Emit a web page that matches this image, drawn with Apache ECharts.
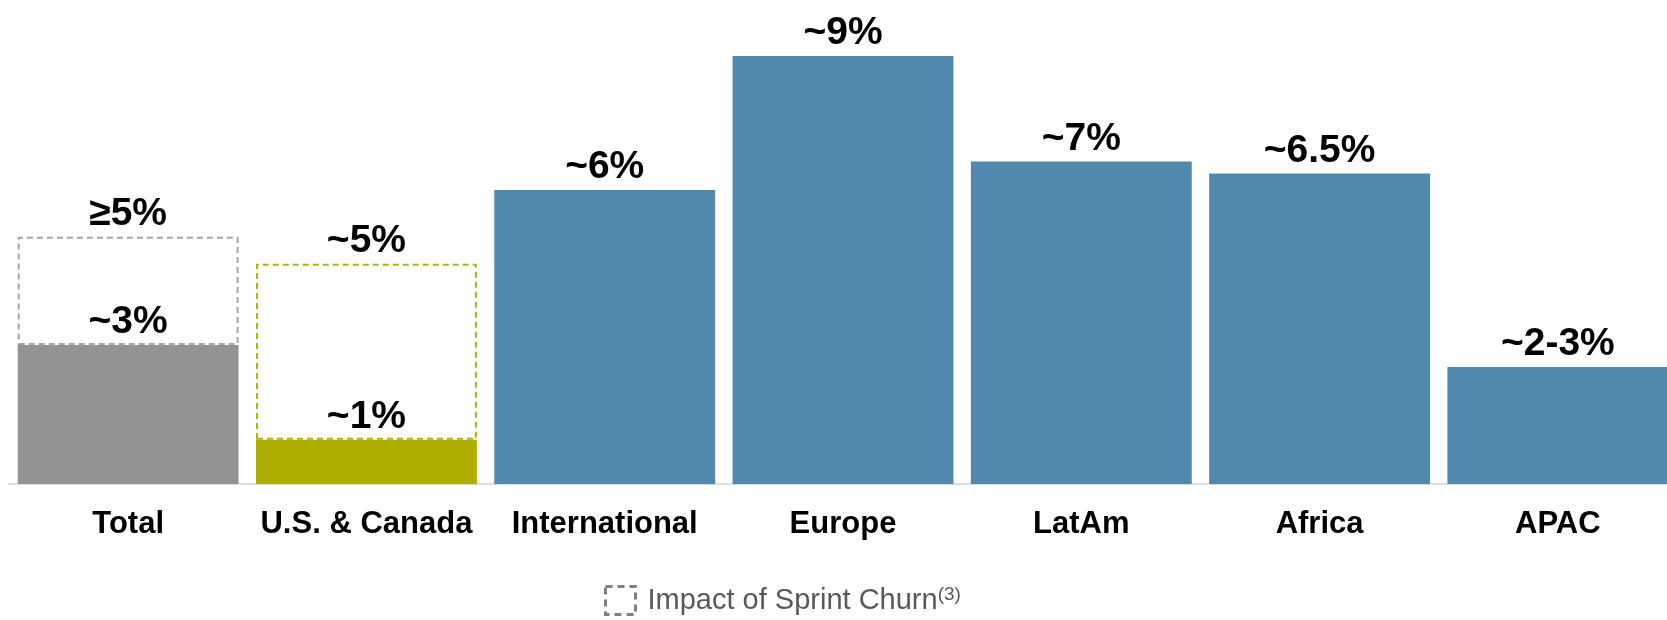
<!DOCTYPE html>
<html>
<head>
<meta charset="utf-8">
<script src="https://cdn.jsdelivr.net/npm/echarts@6/dist/echarts.min.js"></script>
<style>
html,body{margin:0;padding:0;background:#fff;overflow:hidden;width:1667px;height:620px;}
#c{width:1690px;height:620px;}
</style>
</head>
<body>
<div id="c"></div>
<script>
// ---- data ----
var categories = ['Total', 'U.S. & Canada', 'International', 'Europe', 'LatAm', 'Africa', 'APAC'];
var churnValues = [2.92, 0.93, 6.18, 9.0, 6.78, 6.53, 2.46];
var churnLabels = ['~3%', '~1%', '~6%', '~9%', '~7%', '~6.5%', '~2-3%'];
var sprintImpactTotals = [5.2, 4.63, null, null, null, null, null];
var sprintImpactLabels = ['\u22655%', '~5%', '', '', '', '', ''];
var legendName = 'Impact of Sprint Churn';
var legendNote = '(3)';

// ---- styles ----
var fillColors = ['#939393', '#adae00', '#5089ad', '#5089ad', '#5089ad', '#5089ad', '#5089ad'];
var dashColors = ['#a6a6a6', '#b3b400'];
var FONT = 'Liberation Sans, Arial, sans-serif';

var chart = echarts.init(document.getElementById('c'), null, {renderer: 'canvas'});

var baseData = churnValues.map(function (v, i) {
  return {value: v, itemStyle: {color: fillColors[i]}, label: {formatter: churnLabels[i]}};
});
var impactData = sprintImpactTotals.map(function (t, i) {
  if (t === null) return '-';
  return {
    value: +(t - churnValues[i]).toFixed(3),
    itemStyle: {borderColor: dashColors[i]},
    label: {formatter: sprintImpactLabels[i]}
  };
});

var labelStyle = {
  show: true, position: 'top', distance: 3,
  fontFamily: FONT, fontWeight: 'bold', fontSize: 39, color: '#000'
};

chart.setOption({
  animation: false,
  grid: {left: 9, width: 1668, top: 8.4, bottom: 136, containLabel: false},
  legend: {
    left: 599, top: 580,
    itemWidth: 30, itemHeight: 28, itemGap: 10,
    icon: 'rect',
    data: [{name: legendName, icon: 'rect'}],
    itemStyle: {color: 'rgba(0,0,0,0)', borderColor: '#7f7f7f', borderWidth: 3, borderType: [7, 5]},
    formatter: function (n) { return '{a|' + n + '}{s|' + legendNote + '}'; },
    textStyle: {
      padding: [0, 0, 0, 7],
      rich: {
        a: {fontFamily: FONT, fontSize: 29, color: '#595959'},
        s: {fontFamily: FONT, fontSize: 19, color: '#595959', verticalAlign: 'top', padding: [0, 0, 12, 0]}
      }
    }
  },
  xAxis: {
    type: 'category',
    data: categories,
    axisLine: {show: true, lineStyle: {color: '#dedede', width: 2}},
    axisTick: {show: false},
    axisLabel: {
      fontFamily: FONT, fontWeight: 'bold', fontSize: 31, color: '#000', margin: 25, interval: 0
    }
  },
  yAxis: {
    type: 'value', min: 0, max: 10, show: false,
    splitLine: {show: false}
  },
  series: [
    {
      name: 'Churn',
      type: 'bar',
      stack: 's',
      barCategoryGap: '7.3%',
      data: baseData,
      label: labelStyle
    },
    {
      name: legendName,
      type: 'bar',
      stack: 's',
      data: impactData,
      itemStyle: {color: 'rgba(0,0,0,0)', borderColor: '#a6a6a6', borderWidth: 2, borderType: [6, 4]},
      label: labelStyle
    }
  ]
});
</script>
</body>
</html>
